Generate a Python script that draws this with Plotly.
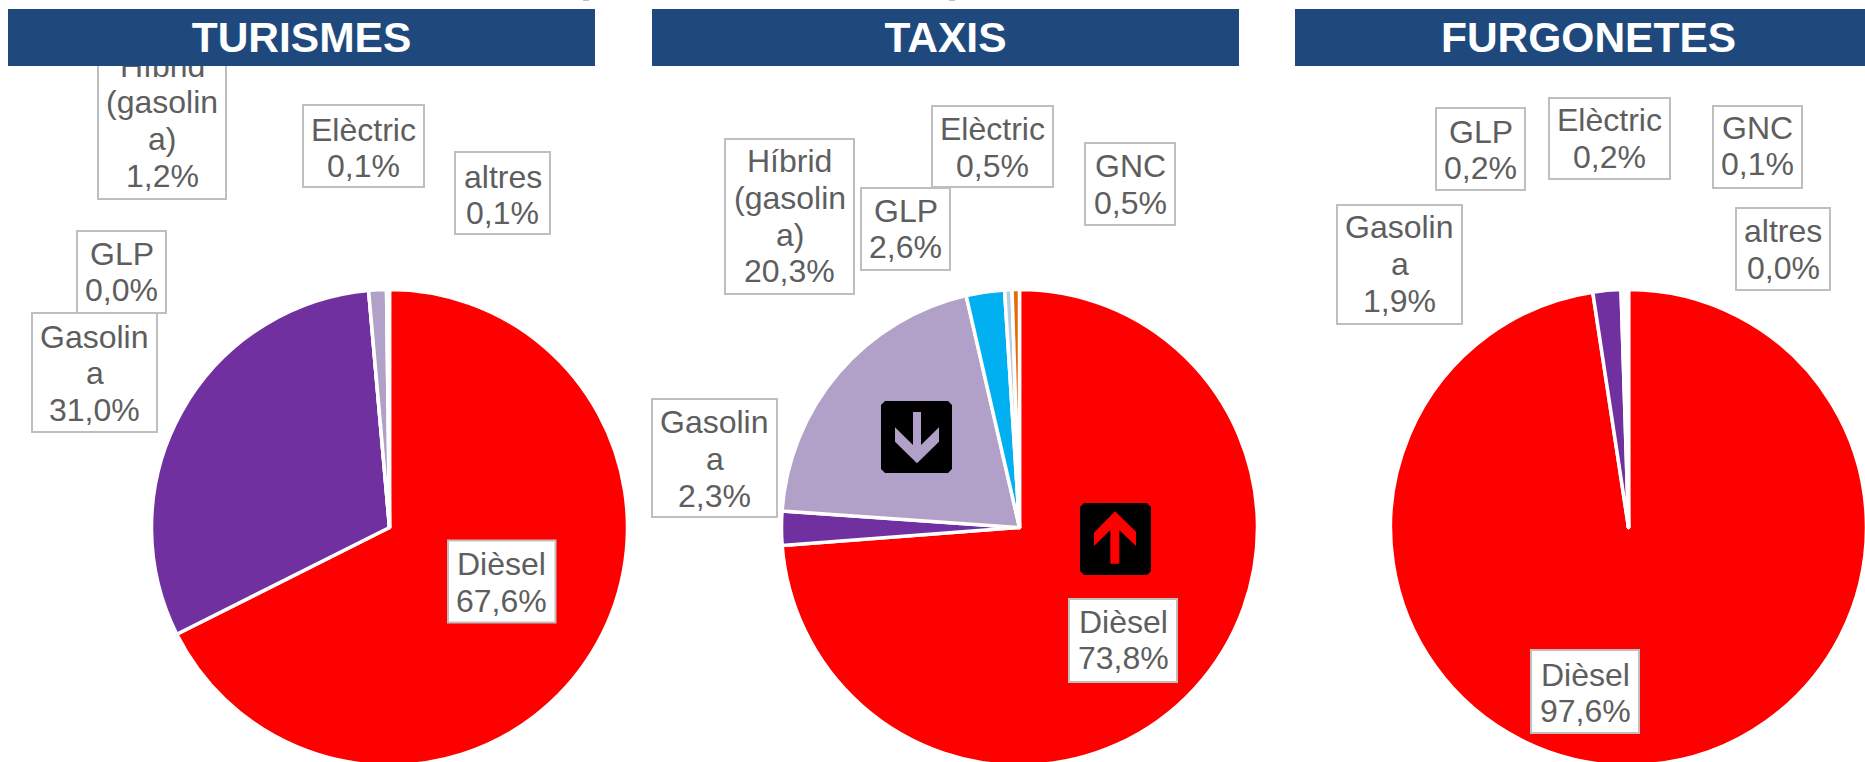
import plotly.graph_objects as go

# The canvas is a little larger than the 1865x762 window: the pies run just past its edges.
W, H = 1870, 770
FONT = "Liberation Sans, Arial, sans-serif"
TEXT = "#5E5E5E"
EDGE = "#BFBFBF"
NAVY = "#1F497D"

# ---------- data ----------
turismes_cats = ["Dièsel", "Gasolina", "GLP", "Híbrid (gasolina)", "Elèctric", "altres"]
turismes_vals = [67.6, 31.0, 0.0, 1.2, 0.1, 0.1]
taxis_cats = ["Dièsel", "Gasolina", "Híbrid (gasolina)", "GLP", "Elèctric", "GNC"]
taxis_vals = [73.8, 2.3, 20.3, 2.6, 0.5, 0.5]
furgonetes_cats = ["Dièsel", "Gasolina", "GLP", "Elèctric", "GNC", "altres"]
furgonetes_vals = [97.6, 1.9, 0.2, 0.2, 0.1, 0.0]

colors = {"Dièsel": "#FF0000", "Gasolina": "#7030A0", "Híbrid (gasolina)": "#B1A0C7",
          "GLP": "#00B0F0", "Elèctric": "#B8CCE4", "GNC": "#E26B0A", "altres": "#FFFFFF"}
wrapped = {"Gasolina": ["Gasolin", "a"], "Híbrid (gasolina)": ["Híbrid", "(gasolin", "a)"]}

# ---------- layout (pixels) ----------
# pie: (center x, top y, bottom y)
pie_geo = {"TURISMES": (389.5, 289.5, 765.5), "TAXIS": (1019.5, 289.5, 765.5),
           "FURGONETES": (1628.5, 289.5, 765.5)}
headers = {"TURISMES": (8, 595), "TAXIS": (652, 1239), "FURGONETES": (1295, 1882)}
# label box: x0, x1, y0, y1, first line centre y
boxes = {
    "TURISMES": {
        "Dièsel": (448, 555.5, 540.5, 622.5, 564),
        "Gasolina": (32, 157, 313, 432, 336.5),
        "GLP": (77, 166, 231, 313, 253.5),
        "Híbrid (gasolina)": (98, 226, 40, 199, 65.5),
        "Elèctric": (303, 424, 105, 187, 129.5),
        "altres": (455, 550, 152, 234, 176.5),
    },
    "TAXIS": {
        "Dièsel": (1069, 1177, 599, 682, 621.5),
        "Gasolina": (652, 777, 399, 517, 422),
        "Híbrid (gasolina)": (725, 854, 139, 294, 161),
        "GLP": (861, 950, 188, 270, 210.5),
        "Elèctric": (932, 1053, 106, 187, 129),
        "GNC": (1085, 1175, 143, 225, 166),
    },
    "FURGONETES": {
        "Dièsel": (1531, 1639, 650, 733, 674.5),
        "Gasolina": (1337, 1462, 205, 324, 227.5),
        "GLP": (1436, 1525, 108, 190, 131.5),
        "Elèctric": (1549, 1670, 98, 179, 120.5),
        "GNC": (1713, 1802, 106, 188, 127.5),
        "altres": (1736, 1830, 208, 290, 231.5),
    },
}
stubs = [(583, 589), (949, 955)]  # cut-off box edges at the very top of the picture
LINE = 36.8

px = lambda x: x / W
py = lambda y: 1 - y / H

charts = {"TURISMES": (turismes_cats, turismes_vals),
          "TAXIS": (taxis_cats, taxis_vals),
          "FURGONETES": (furgonetes_cats, furgonetes_vals)}

fig = go.Figure()
shapes, annotations = [], []

for name, (cats, vals) in charts.items():
    cx, top, bottom = pie_geo[name]
    r = (bottom - top) / 2
    fig.add_trace(go.Pie(
        labels=cats, values=vals, sort=False, direction="clockwise", rotation=0,
        marker=dict(colors=[colors[c] for c in cats], line=dict(color="white", width=3.5)),
        textinfo="none", hoverinfo="label+percent", showlegend=False,
        domain=dict(x=[px(cx - r), px(cx + r)], y=[py(bottom), py(top)]),
    ))
    for cat, val in zip(cats, vals):
        if cat not in boxes[name]:
            continue
        x0, x1, y0, y1, first = boxes[name][cat]
        shapes.append(dict(type="rect", xref="paper", yref="paper",
                           x0=px(x0), x1=px(x1), y0=py(y0), y1=py(y1),
                           fillcolor="white", line=dict(color=EDGE, width=2)))
        lines = wrapped.get(cat, [cat]) + [f"{val:.1f}".replace(".", ",") + "%"]
        for i, t in enumerate(lines):
            annotations.append(dict(text=t, xref="paper", yref="paper", showarrow=False,
                                    x=px((x0 + x1) / 2), y=py(first + i * LINE),
                                    xanchor="center", yanchor="middle",
                                    font=dict(family=FONT, size=32, color=TEXT)))

for x0, x1 in stubs:
    shapes.append(dict(type="rect", xref="paper", yref="paper",
                       x0=px(x0), x1=px(x1), y0=py(1), y1=py(0),
                       fillcolor=EDGE, line=dict(width=0)))

# headers are annotations so they sit on top of the label text they overlap
for name, (x0, x1) in headers.items():
    annotations.append(dict(text=f"<b>{name}</b>", xref="paper", yref="paper", showarrow=False,
                            x=px(x0), y=py(9), xanchor="left", yanchor="top",
                            width=x1 - x0, height=57, align="center", valign="middle",
                            bgcolor=NAVY, borderpad=0, borderwidth=0,
                            font=dict(family=FONT, size=42.5, color="white")))

# arrow badges
def path(points, close=True):
    s = "M" + " L".join(f"{px(x):.5f},{py(y):.5f}" for x, y in points)
    return s + (" Z" if close else "")

def rounded(x0, y0, x1, y1, r=4):
    return path([(x0 + r, y0), (x1 - r, y0), (x1, y0 + r), (x1, y1 - r),
                 (x1 - r, y1), (x0 + r, y1), (x0, y1 - r), (x0, y0 + r)])

def z(pts):
    return [(860 + x / 3, 380 + y / 3) for x, y in pts]

down = z([(159, 96), (183, 96), (183, 195), (237, 142), (237, 185), (171, 250),
          (105, 185), (105, 142), (159, 195)])
up = z([(765, 394), (828, 455), (828, 498), (778, 450), (778, 551), (751, 551),
        (751, 450), (702, 498), (702, 458)])
for d, color in [(rounded(881, 401, 952, 473), "black"), (path(down), "#B1A0C7"),
                 (rounded(1080, 503, 1151, 575), "black"), (path(up), "#FF0000")]:
    shapes.append(dict(type="path", xref="paper", yref="paper", path=d,
                       fillcolor=color, line=dict(width=0)))

fig.update_layout(width=W, height=H, margin=dict(l=0, r=0, t=0, b=0),
                  paper_bgcolor="white", plot_bgcolor="white",
                  shapes=shapes, annotations=annotations)

fig.write_html("out.html", config={"displayModeBar": False},
               post_script="document.body.style.margin='0';document.documentElement.style.overflow='hidden';document.body.style.overflow='hidden';")
